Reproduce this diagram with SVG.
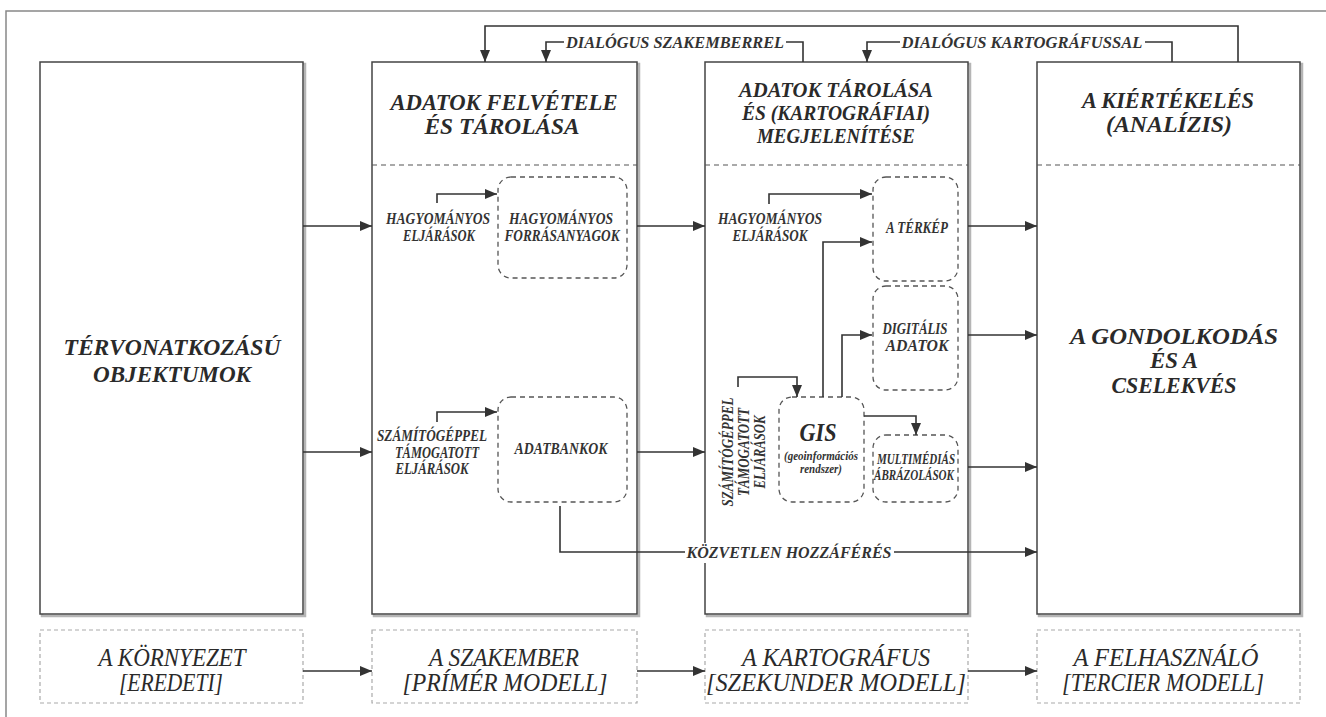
<svg xmlns="http://www.w3.org/2000/svg" width="1326" height="717" viewBox="0 0 1326 717">
<style>
text{font-family:"Liberation Serif",serif;font-style:italic;fill:#2a2a2a;text-anchor:middle}
.t{font-weight:bold;font-size:23px}
.t3{font-weight:bold;font-size:20px}
.big{font-weight:bold;font-size:24px}
.lb{font-weight:bold;font-size:16px;fill:#333}
.sm{font-weight:bold;font-size:15px;fill:#333}
.xs{font-weight:bold;font-size:12px;fill:#333}
.bt{font-size:25px}
.dl{font-weight:bold;font-size:17px;fill:#333}
.col{fill:#fff;stroke:#444;stroke-width:1.5}
.sh{fill:none;stroke:#b5b5b5;stroke-width:2.5}
.div{stroke:#555;stroke-width:1.2;stroke-dasharray:5 4;fill:none}
.rb{fill:none;stroke:#555;stroke-width:1.3;stroke-dasharray:5 4}
.bb{fill:none;stroke:#aaa;stroke-width:1.2;stroke-dasharray:4 3}
.c{fill:none;stroke:#333;stroke-width:1.6}
.a{fill:none;stroke:#333;stroke-width:1.6;marker-end:url(#ah)}
</style>
<defs>
<marker id="ah" markerUnits="userSpaceOnUse" markerWidth="14" markerHeight="12" refX="12" refY="5" orient="auto">
<path d="M0,0 L12,5 L0,10 z" fill="#333"/>
</marker>
</defs>
<path d="M6,717 V11 H1326" fill="none" stroke="#888" stroke-width="1.5"/>

<g id="col1">
<rect class="sh" x="42" y="64" width="263" height="552"/>
<rect class="col" x="40" y="62" width="263" height="552"/>
<text class="big" x="172" y="355" textLength="217" lengthAdjust="spacingAndGlyphs">TÉRVONATKOZÁSÚ</text>
<text class="big" x="172" y="382" textLength="158" lengthAdjust="spacingAndGlyphs">OBJEKTUMOK</text>
</g>

<g id="col2">
<rect class="sh" x="374" y="64" width="265" height="552"/>
<rect class="col" x="372" y="62" width="265" height="552"/>
<line class="div" x1="372" y1="165" x2="637" y2="165"/>
<text class="t" x="504" y="110" textLength="227" lengthAdjust="spacingAndGlyphs">ADATOK FELVÉTELE</text>
<text class="t" x="502" y="134" textLength="155" lengthAdjust="spacingAndGlyphs">ÉS TÁROLÁSA</text>
<text class="lb" x="438" y="224" textLength="104" lengthAdjust="spacingAndGlyphs">HAGYOMÁNYOS</text>
<text class="lb" x="439" y="241" textLength="72" lengthAdjust="spacingAndGlyphs">ELJÁRÁSOK</text>
<text class="lb" x="432" y="441" textLength="110" lengthAdjust="spacingAndGlyphs">SZÁMÍTÓGÉPPEL</text>
<text class="lb" x="437" y="458" textLength="84" lengthAdjust="spacingAndGlyphs">TÁMOGATOTT</text>
<text class="lb" x="432" y="474" textLength="73" lengthAdjust="spacingAndGlyphs">ELJÁRÁSOK</text>
</g>
<g id="forrasanyagok">
<rect class="rb" x="498" y="177" width="129" height="101" rx="13"/>
<text class="lb" x="561" y="224" textLength="104" lengthAdjust="spacingAndGlyphs">HAGYOMÁNYOS</text>
<text class="lb" x="562" y="241" textLength="115" lengthAdjust="spacingAndGlyphs">FORRÁSANYAGOK</text>
</g>
<g id="adatbankok">
<rect class="rb" x="498" y="397" width="129" height="105" rx="13"/>
<text class="lb" x="561" y="454" textLength="93" lengthAdjust="spacingAndGlyphs">ADATBANKOK</text>
</g>

<g id="col3">
<rect class="sh" x="707" y="64" width="263" height="552"/>
<rect class="col" x="705" y="62" width="263" height="552"/>
<line class="div" x1="705" y1="165" x2="968" y2="165"/>
<text class="t3" x="836" y="97" textLength="194" lengthAdjust="spacingAndGlyphs">ADATOK TÁROLÁSA</text>
<text class="t3" x="836" y="120" textLength="188" lengthAdjust="spacingAndGlyphs">ÉS (KARTOGRÁFIAI)</text>
<text class="t3" x="836" y="143" textLength="158" lengthAdjust="spacingAndGlyphs">MEGJELENÍTÉSE</text>
<text class="lb" x="770" y="224" textLength="104" lengthAdjust="spacingAndGlyphs">HAGYOMÁNYOS</text>
<text class="lb" x="770" y="241" textLength="75" lengthAdjust="spacingAndGlyphs">ELJÁRÁSOK</text>
<text class="lb" transform="translate(733,452) rotate(-90)" textLength="109" lengthAdjust="spacingAndGlyphs">SZÁMÍTÓGÉPPEL</text>
<text class="lb" transform="translate(749,452) rotate(-90)" textLength="88" lengthAdjust="spacingAndGlyphs">TÁMOGATOTT</text>
<text class="lb" transform="translate(765,452) rotate(-90)" textLength="73" lengthAdjust="spacingAndGlyphs">ELJÁRÁSOK</text>
</g>
<g id="terkep">
<rect class="rb" x="873" y="177" width="85" height="104" rx="13"/>
<text class="lb" x="917" y="233" textLength="62" lengthAdjust="spacingAndGlyphs">A TÉRKÉP</text>
</g>
<g id="digitalis">
<rect class="rb" x="873" y="286" width="85" height="104" rx="13"/>
<text class="lb" x="915" y="334" textLength="65" lengthAdjust="spacingAndGlyphs">DIGITÁLIS</text>
<text class="lb" x="917" y="351" textLength="63" lengthAdjust="spacingAndGlyphs">ADATOK</text>
</g>
<g id="gis">
<rect class="rb" x="779" y="397" width="85" height="105" rx="13"/>
<text x="818" y="441" style="font-weight:bold;font-size:26px" textLength="37" lengthAdjust="spacingAndGlyphs">GIS</text>
<text class="xs" x="821" y="460" textLength="74" lengthAdjust="spacingAndGlyphs">(geoinformációs</text>
<text class="xs" x="821" y="473" textLength="42" lengthAdjust="spacingAndGlyphs">rendszer)</text>
</g>
<g id="multimedia">
<rect class="rb" x="873" y="435" width="85" height="67" rx="13"/>
<text class="sm" x="916" y="464" textLength="78" lengthAdjust="spacingAndGlyphs">MULTIMÉDIÁS</text>
<text class="sm" x="914" y="480" textLength="80" lengthAdjust="spacingAndGlyphs">ÁBRÁZOLÁSOK</text>
</g>

<g id="col4">
<rect class="sh" x="1039" y="64" width="263" height="552"/>
<rect class="col" x="1037" y="62" width="263" height="552"/>
<line class="div" x1="1037" y1="165" x2="1300" y2="165"/>
<text class="t" x="1168" y="108" textLength="172" lengthAdjust="spacingAndGlyphs">A KIÉRTÉKELÉS</text>
<text class="t" x="1169" y="132" textLength="126" lengthAdjust="spacingAndGlyphs">(ANALÍZIS)</text>
<text class="big" x="1174" y="344" textLength="208" lengthAdjust="spacingAndGlyphs">A GONDOLKODÁS</text>
<text class="big" x="1174" y="368" textLength="48" lengthAdjust="spacingAndGlyphs">ÉS A</text>
<text class="big" x="1174" y="393" textLength="125" lengthAdjust="spacingAndGlyphs">CSELEKVÉS</text>
</g>

<g id="kornyezet">
<rect class="bb" x="40" y="630" width="263" height="73"/>
<text class="bt" x="172" y="666" textLength="147" lengthAdjust="spacingAndGlyphs">A KÖRNYEZET</text>
<text class="bt" x="171" y="691" textLength="104" lengthAdjust="spacingAndGlyphs">[EREDETI]</text>
</g>
<g id="szakember">
<rect class="bb" x="372" y="630" width="265" height="73"/>
<text class="bt" x="504" y="666" textLength="150" lengthAdjust="spacingAndGlyphs">A SZAKEMBER</text>
<text class="bt" x="505" y="691" textLength="205" lengthAdjust="spacingAndGlyphs">[PRÍMÉR MODELL]</text>
</g>
<g id="kartografus">
<rect class="bb" x="705" y="630" width="263" height="73"/>
<text class="bt" x="836" y="666" textLength="188" lengthAdjust="spacingAndGlyphs">A KARTOGRÁFUS</text>
<text class="bt" x="836" y="691" textLength="260" lengthAdjust="spacingAndGlyphs">[SZEKUNDER MODELL]</text>
</g>
<g id="felhasznalo">
<rect class="bb" x="1037" y="630" width="263" height="73"/>
<text class="bt" x="1166" y="666" textLength="185" lengthAdjust="spacingAndGlyphs">A FELHASZNÁLÓ</text>
<text class="bt" x="1163" y="691" textLength="202" lengthAdjust="spacingAndGlyphs">[TERCIER MODELL]</text>
</g>

<g id="connectors">
<path class="a" d="M1238,62 V26 H485 V62"/>
<path class="c" d="M803,62 V42 H786"/>
<path class="a" d="M564,42 H546 V62"/>
<text class="dl" x="675" y="48" textLength="218" lengthAdjust="spacingAndGlyphs">DIALÓGUS SZAKEMBERREL</text>
<path class="c" d="M1172,62 V42 H1145"/>
<path class="a" d="M900,42 H867 V62"/>
<text class="dl" x="1022" y="48" textLength="241" lengthAdjust="spacingAndGlyphs">DIALÓGUS KARTOGRÁFUSSAL</text>
<path class="a" d="M303,226 H372"/>
<path class="a" d="M303,452 H372"/>
<path class="a" d="M637,226 H705"/>
<path class="a" d="M637,452 H705"/>
<path class="a" d="M968,226 H1037"/>
<path class="a" d="M968,335 H1037"/>
<path class="a" d="M968,467 H1037"/>
<path class="a" d="M437,203 V194 H497"/>
<path class="a" d="M437,422 V412 H497"/>
<path class="a" d="M769,204 V194 H872"/>
<path class="a" d="M823,397 V242 H872"/>
<path class="a" d="M842,397 V335 H872"/>
<path class="a" d="M738,387 V377 H797 V397"/>
<path class="a" d="M864,416 H916 V435"/>
<path class="a" d="M560,506 V552 H1037"/>
<rect x="685" y="543" width="209" height="20" fill="#fff"/>
<text class="dl" x="789" y="558" textLength="205" lengthAdjust="spacingAndGlyphs">KÖZVETLEN HOZZÁFÉRÉS</text>
<path class="a" d="M303,671 H372"/>
<path class="a" d="M637,671 H705"/>
<path class="a" d="M968,671 H1037"/>
</g>
</svg>
